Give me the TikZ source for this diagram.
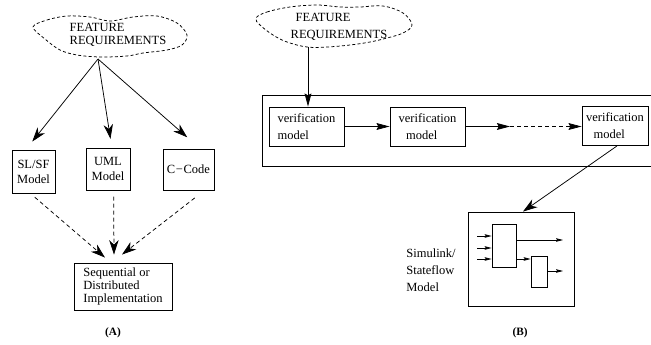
\documentclass[tikz,border=0pt]{standalone}
\usepackage{fontspec}
\setmainfont{Liberation Serif}
\usetikzlibrary{
  arrows.meta,
  calc
}
\tikzset{
  txt/.style={font=\fontsize{10}{12}\selectfont, align=left, inner sep=0pt},
  reqtext/.style={txt, font=\fontsize{10}{10.4}\selectfont},
  cloudline/.style={draw, dash pattern=on 2.4pt off 1.8pt, line width=0.6pt},
  mbox/.style={draw, line width=0.7pt, font=\fontsize{10}{12}\selectfont, align=center, inner sep=1pt},
  vmbox/.style={mbox, minimum width=60pt, minimum height=31.2pt, font=\fontsize{10}{13.6}\selectfont, align=left},
  outerbox/.style={draw, line width=0.7pt, minimum width=315pt, minimum height=56.8pt},
  simbox/.style={draw, line width=0.7pt, minimum width=84.8pt, minimum height=75.2pt},
  blk/.style={draw, line width=0.6pt, inner sep=0pt},
  flow/.style={-{Stealth[length=11.5pt, width=7.5pt, inset=3.5pt]}, line width=0.6pt},
  dflow/.style={flow, dash pattern=on 3.2pt off 2.4pt},
  hflow/.style={-{Stealth[length=10.5pt, width=5.5pt, inset=1.5pt]}, line width=0.6pt},
  sig/.style={-{Stealth[length=5.5pt, width=2.8pt, inset=0.8pt]}, line width=0.6pt},
  caption/.style={font=\fontsize{9}{10}\selectfont\bfseries, inner sep=0pt}
}

\begin{document}
\begin{tikzpicture}[x=0.8pt, y=-0.8pt, line width=0.6pt]
  \useasboundingbox (0,0) rectangle (651,345);
  % (A) requirements -> three models -> implementation
  \draw[cloudline] plot[smooth cycle, tension=0.55] coordinates {(33,27) (47,20) (67,16) (90,17) (110,21) (133,17) (157,16) (177,23) (187,35) (182,45) (167,50) (143,53) (127,56) (100,57) (77,55) (60,50) (45,39)};
  \node[reqtext] (reqA) at (118,34.5) {FEATURE\\REQUIREMENTS};
  \coordinate (reqAout) at (98,59);
  \node[mbox, minimum width=34.4pt, minimum height=34.4pt] (slsf) at (33.5,171.5) {SL/SF\\Model};
  \node[mbox, minimum width=35.2pt, minimum height=33.6pt] (uml) at (108,169) {UML\\Model};
  \node[mbox, minimum width=40.8pt, minimum height=32.8pt] (ccode) at (188.5,169.5) {C{\kern0.5pt}−{\kern0.5pt}Code};
  \node[mbox, minimum width=78.4pt, minimum height=37.6pt, align=left,
        font=\fontsize{10}{10.4}\selectfont] (impl) at (123,286.5)
    {Sequential or\\Distributed\\Implementation};
  \draw[flow] (reqAout) -- ([xshift=-1pt, yshift=6.4pt]slsf.north);
  \draw[flow] (reqAout) -- ([xshift=2pt, yshift=7pt]uml.north);
  \draw[flow] (reqAout) -- ([xshift=-1pt, yshift=9pt]ccode.north);
  \draw[dflow] ([xshift=1pt, yshift=-3pt]slsf.south) -- ([xshift=-14.4pt, yshift=4pt]impl.north);
  \draw[dflow] ([xshift=4.5pt, yshift=-5pt]uml.south) -- ([xshift=-7.2pt, yshift=6.4pt]impl.north);
  \draw[dflow] ([xshift=5pt, yshift=-6pt]ccode.south) -- ([xshift=-0.8pt, yshift=6.4pt]impl.north);
  \node[caption] (capA) at (113,333) {(A)};

  % (B) requirements -> chain of verification models -> Simulink/Stateflow
  \draw[cloudline] plot[smooth cycle, tension=0.6] coordinates {(256,18) (267,12) (290,7) (317,5) (340,7) (360,7) (383,6) (403,13) (412,25) (403,33) (387,38) (370,42) (350,45) (327,47) (307,47) (287,42) (273,35) (260,25)};
  \node[reqtext, font=\fontsize{10}{13.6}\selectfont] (reqB) at (339,26.5) {\hspace*{4pt}FEATURE\\REQUIREMENTS};
  \coordinate (reqBout) at (308,47);
  \node[outerbox] (chain) at (459,130.5) {};
  \node[vmbox] (vm1) at (306.5,126.5) {verification\\model};
  \node[vmbox] (vm2) at (427.5,126.5) {verification\\\hspace*{6pt}model};
  \node[vmbox, minimum width=52.8pt] (vm3) at (615,126) {verification\\\hspace*{6pt}model};
  \coordinate (gap) at (510,126.5);
  \draw[hflow] (reqBout) -- (reqBout |- vm1.north);
  \draw[hflow] (vm1) -- (vm2);
  \draw[hflow] (vm2) -- (gap);
  \draw[hflow, dash pattern=on 3.2pt off 2.4pt] (gap) -- (vm3.west |- gap);

  \node[simbox] (sim) at (521,259) {};
  \node[blk, minimum width=19.2pt, minimum height=34.4pt] (blk1) at (504,245.5) {};
  \node[blk, minimum width=12.8pt, minimum height=24.8pt] (blk2) at (539,271.5) {};
  \foreach \y [count=\i] in {236,248,259} {
    \coordinate (in\i) at (477,\y);
    \draw[sig] (in\i) -- (in\i -| blk1.west);
  }
  \coordinate (out1) at (563,240);
  \coordinate (out2) at (563,271);
  \draw[sig] (blk1.east |- out1) -- (out1);
  \draw[sig] (blk1.east |- in3) -- (blk2.west |- in3);
  \draw[sig] (blk2.east |- out2) -- (out2);
  \draw[flow] ([xshift=1.6pt]vm3.south) -- ([xshift=1.6pt]sim.north);
  \node[txt, anchor=west, font=\fontsize{10}{13.6}\selectfont] (simtxt) at (406,270)
    {Simulink/\\Stateflow\\Model};
  \node[caption] (capB) at (520,333) {(B)};
\end{tikzpicture}
\end{document}
